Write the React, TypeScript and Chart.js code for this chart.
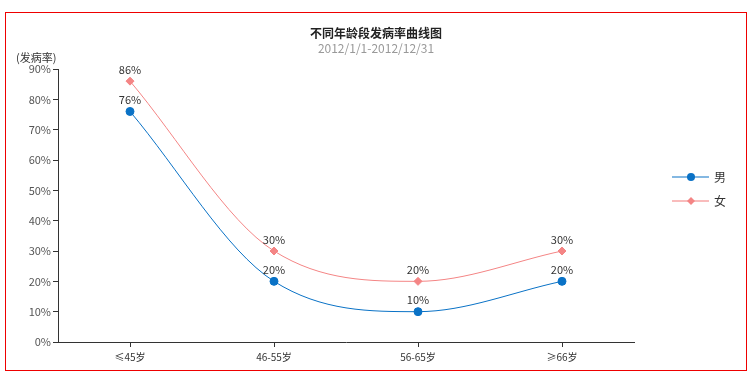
import React, { useEffect, useRef } from "react";
import { Chart, registerables } from "chart.js";

Chart.register(...registerables);

const categories = ["≤45岁", "46-55岁", "56-65岁", "≥66岁"];
const maleValues = [76, 20, 10, 20];
const femaleValues = [86, 30, 20, 30];
const seriesNames = ["男", "女"];
const yTicks = [0, 10, 20, 30, 40, 50, 60, 70, 80, 90];
const titleText = "不同年龄段发病率曲线图";
const subtitleText = "2012/1/1-2012/12/31";
const yAxisTitle = "(发病率)";

const BLUE = "#0a72c6";
const PINK = "#f48585";
const FONT = "'Noto Sans CJK SC', 'Noto Sans', sans-serif";

const overlayPlugin = {
  id: "overlay",
  afterDraw(chart: any) {
    const ctx = chart.ctx;
    ctx.save();
    // title
    ctx.textAlign = "center";
    ctx.textBaseline = "middle";
    ctx.fillStyle = "#222";
    ctx.font = `bold 12px ${FONT}`;
    ctx.fillText(titleText, 376, 33);
    ctx.fillStyle = "#999";
    ctx.font = `12px ${FONT}`;
    ctx.fillText(subtitleText, 376, 48);
    // y-axis title
    ctx.fillStyle = "#333";
    ctx.font = `11px ${FONT}`;
    ctx.textAlign = "left";
    ctx.fillText(yAxisTitle, 16, 58);
    // data labels
    ctx.textAlign = "center";
    ctx.textBaseline = "bottom";
    ctx.font = `11px ${FONT}`;
    ctx.fillStyle = "#333";
    chart.data.datasets.forEach((ds: any, i: number) => {
      const meta = chart.getDatasetMeta(i);
      meta.data.forEach((pt: any, j: number) => {
        ctx.fillText(ds.data[j] + "%", pt.x, pt.y - 6);
      });
    });
    // legend
    const rows = [
      { name: seriesNames[0], color: BLUE, line: "rgba(10,114,198,0.5)", style: "circle", y: 177 },
      { name: seriesNames[1], color: PINK, line: "rgba(244,133,133,0.55)", style: "rectRot", y: 201 },
    ];
    rows.forEach((r) => {
      ctx.strokeStyle = r.line;
      ctx.lineWidth = 2;
      ctx.beginPath();
      ctx.moveTo(672, r.y);
      ctx.lineTo(709, r.y);
      ctx.stroke();
      ctx.fillStyle = r.color;
      if (r.style === "circle") {
        ctx.beginPath();
        ctx.arc(691, r.y, 4, 0, Math.PI * 2);
        ctx.fill();
      } else {
        ctx.beginPath();
        ctx.moveTo(691, r.y - 4);
        ctx.lineTo(695, r.y);
        ctx.lineTo(691, r.y + 4);
        ctx.lineTo(687, r.y);
        ctx.closePath();
        ctx.fill();
      }
      ctx.fillStyle = "#333";
      ctx.font = `12px ${FONT}`;
      ctx.textAlign = "left";
      ctx.textBaseline = "middle";
      ctx.fillText(r.name, 714, r.y);
    });
    ctx.restore();
  },
};

export default function App() {
  const ref = useRef<HTMLCanvasElement>(null);
  useEffect(() => {
    document.body.style.margin = "0";
    const chart = new Chart(ref.current!, {
      type: "line",
      data: {
        labels: categories,
        datasets: [
          {
            label: seriesNames[0],
            data: maleValues,
            borderColor: BLUE,
            backgroundColor: BLUE,
            borderWidth: 1,
            pointRadius: 4,
            pointStyle: "circle",
            cubicInterpolationMode: "monotone",
          },
          {
            label: seriesNames[1],
            data: femaleValues,
            borderColor: PINK,
            backgroundColor: PINK,
            borderWidth: 1,
            pointRadius: 4,
            pointStyle: "rectRot",
            cubicInterpolationMode: "monotone",
          },
        ],
      },
      options: {
        animation: false,
        responsive: false,
        layout: { padding: { left: 0, top: 69, right: 117, bottom: 0 } },
        plugins: { legend: { display: false }, tooltip: { enabled: false } },
        scales: {
          x: {
            offset: true,
            grid: { drawOnChartArea: false, drawTicks: true, tickLength: 5, color: "#333", offset: false },
            border: { color: "#333", width: 1 },
            ticks: { color: "#333", font: { size: 10, family: FONT }, padding: 4, maxRotation: 0 },
            afterFit: (s: any) => {
              s.height = 39;
            },
          },
          y: {
            min: 0,
            max: 90,
            afterBuildTicks: (s: any) => {
              s.ticks = yTicks.map((v) => ({ value: v }));
            },
            grid: { drawOnChartArea: false, drawTicks: true, tickLength: 5, color: "#333" },
            border: { color: "#333", width: 1 },
            ticks: {
              color: "#555",
              font: { size: 11, family: FONT },
              padding: 2,
              callback: (v: any) => v + "%",
            },
            afterFit: (s: any) => {
              s.width = 58;
            },
          },
        },
      },
      plugins: [overlayPlugin],
    });
    return () => chart.destroy();
  }, []);
  return (
    <div style={{ position: "relative", width: 751, height: 381 }}>
      <canvas ref={ref} width={751} height={381} style={{ position: "absolute", left: 0, top: 0 }} />
      <div
        style={{
          position: "absolute",
          left: 5,
          top: 12,
          width: 740,
          height: 357,
          border: "1px solid #e00",
          pointerEvents: "none",
        }}
      />
    </div>
  );
}
